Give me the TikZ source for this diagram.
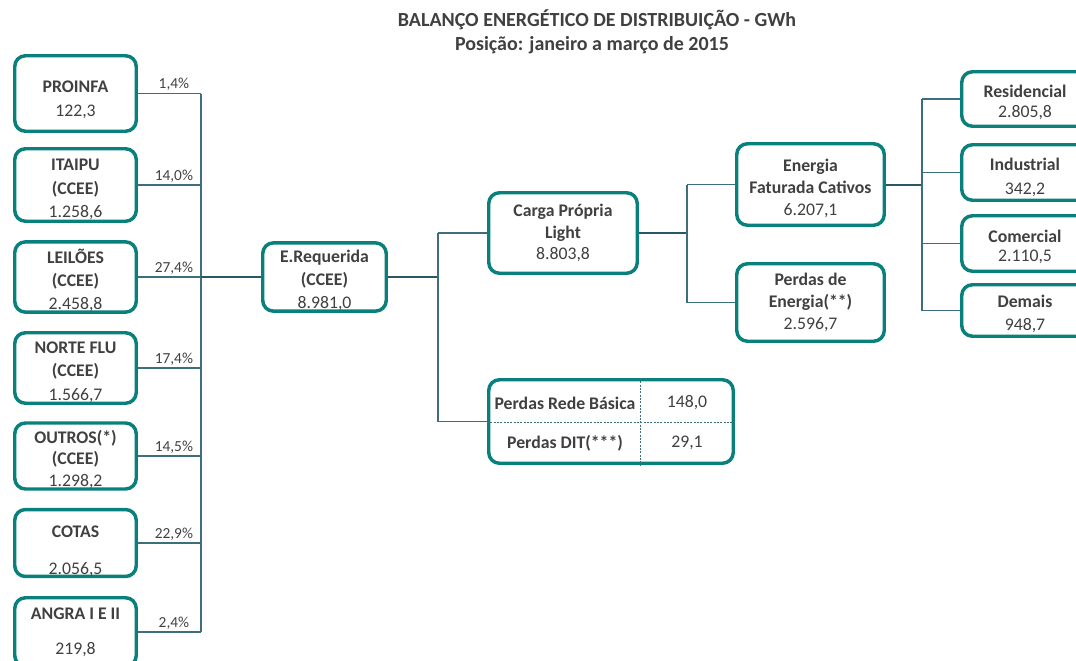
\documentclass[tikz,border=0pt]{standalone}
\usepackage{fontspec}
\setmainfont{Carlito}
\definecolor{boxteal}{HTML}{0A807C}
\definecolor{linec}{HTML}{3E6E7C}
\definecolor{linedark}{HTML}{2A5666}
\definecolor{txt}{HTML}{404040}
\newcommand{\topst}[1]{\rule{0pt}{#1}}
\begin{document}
\begin{tikzpicture}[x=0.75pt,y=-0.75pt,
  box/.style={draw=boxteal, line width=2.6pt, rounded corners=8pt, fill=white,
    align=center, text=txt, inner sep=0pt, font=\fontsize{13.3}{17.5}\selectfont},
  tight/.style={font=\fontsize{13.3}{14.5}\selectfont},
  mid/.style={font=\fontsize{13.3}{16.4}\selectfont},
  sz/.style 2 args={minimum width={#1*0.75pt}, minimum height={#2*0.75pt}},
  conn/.style={draw=linec, line width=1pt},
  trunk/.style={draw=linedark, line width=1.5pt},
  divline/.style={draw=linec, line width=0.6pt, dash pattern=on 1.5pt off 1pt},
  pct/.style={font=\fontsize{11.5}{13}\selectfont, text=txt, inner sep=1.5pt},
  ttl/.style={font=\bfseries\fontsize{15}{17}\selectfont, text=txt},
  cell/.style={font=\fontsize{13.3}{15}\selectfont, text=txt, inner sep=0pt}]
\useasboundingbox (0,0) rectangle (1076,661);
\clip (0,0) rectangle (1076,661);

% title
\node[ttl] (t1) at (597,20) {BALANÇO ENERGÉTICO DE DISTRIBUIÇÃO - GWh};
\node[ttl] (t2) at (592,45) {Posição: janeiro a março de 2015};

% bus coordinates
\coordinate (bL) at (201,0);
\coordinate (bM) at (438,0);
\coordinate (bC) at (687,0);
\coordinate (bR) at (922,0);
\coordinate (dv) at (640,422);

% left column
\node[box, sz={121.5}{75.5}] (p1) at (75.5,93.5) {\topst{18pt}\textbf{PROINFA}\\122,3};
\node[box, sz={121.5}{72.5}] (p2) at (75.5,185) {\topst{15.5pt}\textbf{ITAIPU}\\\textbf{(CCEE)}\\1.258,6};
\node[box, sz={121.5}{67.5}] (p3) at (75.5,277) {\topst{16pt}\textbf{LEIL{\char"00D5}ES}\\\textbf{(CCEE)}\\2.458,8};
\node[box, sz={121.5}{70.5}] (p4) at (75.5,368) {\topst{15pt}\textbf{NORTE FLU}\\\textbf{(CCEE)}\\1.566,7};
\node[box, mid, sz={121.5}{64.5}] (p5) at (75.5,456) {\topst{15pt}\textbf{OUTROS(*)}\\\textbf{(CCEE)}\\1.298,2};
\node[box, sz={121.5}{66.5}] (p6) at (75.5,543) {\topst{21pt}\textbf{COTAS}\\[10pt]2.056,5};
\node[box, sz={121.5}{68.5}] (p7) at (75.5,632) {\textbf{ANGRA I E II}\\[9pt]219,8};

% middle
\node[box, sz={123.5}{66.5}] (er) at (324.5,277) {\topst{14.5pt}\textbf{E.Requerida}\\\textbf{(CCEE)}\\8.981,0};
\node[box, mid, sz={148.5}{80.5}] (cp) at (563,233) {\textbf{Carga Própria}\\\textbf{Light}\\8.803,8};
\node[box, sz={244.5}{83.5}] (tbl) at (611,421.5) {};
\node[box, mid, sz={147.5}{81.5}] (ef) at (810.5,184.5) {\topst{15pt}\textbf{Energia}\\\textbf{Faturada Cativos}\\6.207,1};
\node[box, mid, sz={147.5}{77.5}] (pe) at (810.5,302.5) {\textbf{Perdas de}\\\textbf{Energia(**)}\\2.596,7};

% right column
\node[box, tight, sz={126.5}{54.5}] (r1) at (1025,99) {\topst{14.3pt}\textbf{Residencial}\\2.805,8};
\node[box, sz={126.5}{55.5}] (r2) at (1025,172.5) {\topst{16.5pt}\textbf{Industrial}\\342,2};
\node[box, tight, sz={126.5}{55.5}] (r3) at (1025,243.5) {\topst{14.3pt}\textbf{Comercial}\\2.110,5};
\node[box, sz={126.5}{51.5}] (r4) at (1025,310.5) {\topst{14.3pt}\textbf{Demais}\\948,7};

% table contents
\draw[divline] (tbl.north -| dv) -- (tbl.south -| dv);
\draw[divline] (tbl.west |- dv) -- (tbl.east |- dv);
\node[cell] (c11) at (565,403) {\textbf{Perdas Rede Básica}};
\node[cell] (c12) at (687,403) {148,0};
\node[cell] (c21) at (565,443) {\textbf{Perdas DIT(***)}};
\node[cell] (c22) at (687,443) {29,1};

% left connectors with percentages
\draw[conn] (p1.east) -- node[pct, pos=0.57, above] {1,4\%} (p1.east -| bL);
\draw[conn] (p2.east) -- node[pct, pos=0.57, above] {14,0\%} (p2.east -| bL);
\draw[conn] (p3.east) -- node[pct, pos=0.57, above] {27,4\%} (p3.east -| bL);
\draw[conn] (p4.east) -- node[pct, pos=0.57, above] {17,4\%} (p4.east -| bL);
\draw[conn] (p5.east) -- node[pct, pos=0.57, above] {14,5\%} (p5.east -| bL);
\draw[conn] (p6.east) -- node[pct, pos=0.57, above] {22,9\%} (p6.east -| bL);
\draw[conn] (p7.east) -- node[pct, pos=0.57, above] {2,4\%} (p7.east -| bL);
\draw[conn] (p1.east -| bL) -- (p7.east -| bL);
\draw[trunk] (p3.east -| bL) -- (er.west);

% middle connectors
\draw[trunk] (er.east) -- (er.east -| bM);
\draw[conn] (bM |- cp.west) -- (bM |- tbl.west);
\draw[conn] (bM |- cp.west) -- (cp.west);
\draw[conn] (bM |- tbl.west) -- (tbl.west);

\draw[trunk] (cp.east) -- (cp.east -| bC);
\draw[conn] (bC |- ef.west) -- (bC |- pe.west);
\draw[conn] (bC |- ef.west) -- (ef.west);
\draw[conn] (bC |- pe.west) -- (pe.west);

% right connectors
\draw[trunk] (ef.east) -- (ef.east -| bR);
\draw[conn] (bR |- r1.west) -- (bR |- r4.west);
\draw[conn] (bR |- r1.west) -- (r1.west);
\draw[conn] (bR |- r2.west) -- (r2.west);
\draw[conn] (bR |- r3.west) -- (r3.west);
\draw[conn] (bR |- r4.west) -- (r4.west);
\end{tikzpicture}
\end{document}
